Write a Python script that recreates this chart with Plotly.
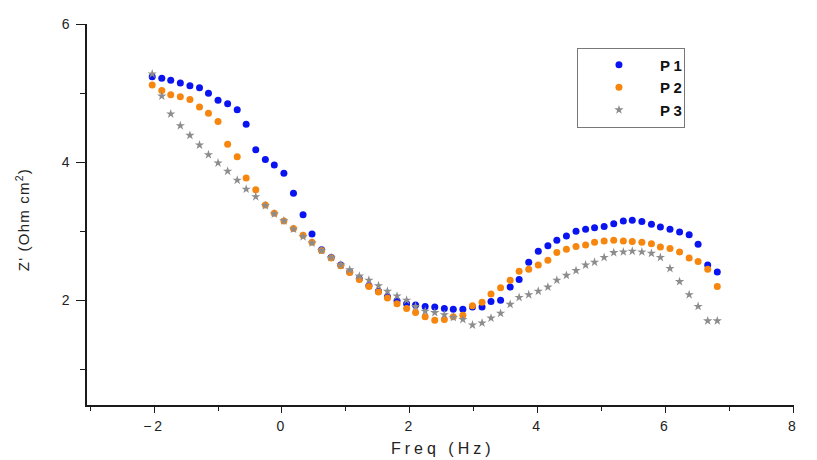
import plotly.graph_objects as go

# log-frequency sample points shared by all three series
freq = [-2.03, -1.88, -1.74, -1.59, -1.44, -1.29, -1.15, -1.00, -0.85, -0.70,
        -0.56, -0.41, -0.26, -0.12, 0.03, 0.18, 0.33, 0.47, 0.62, 0.77,
        0.92, 1.06, 1.21, 1.36, 1.51, 1.65, 1.80, 1.95, 2.09, 2.24,
        2.39, 2.54, 2.68, 2.83, 2.98, 3.13, 3.27, 3.42, 3.57, 3.71,
        3.86, 4.01, 4.16, 4.30, 4.45, 4.60, 4.75, 4.89, 5.04, 5.19,
        5.34, 5.48, 5.63, 5.78, 5.92, 6.07, 6.22, 6.37, 6.51, 6.66, 6.81]

p1 = [5.24, 5.22, 5.19, 5.15, 5.11, 5.08, 5.00, 4.90, 4.85, 4.76,
      4.55, 4.18, 4.04, 3.96, 3.84, 3.55, 3.24, 2.96, 2.73, 2.62,
      2.51, 2.41, 2.31, 2.21, 2.13, 2.05, 1.99, 1.95, 1.93, 1.91,
      1.90, 1.88, 1.87, 1.87, 1.90, 1.90, 1.98, 2.00, 2.19, 2.30,
      2.55, 2.71, 2.79, 2.87, 2.93, 3.00, 3.03, 3.05, 3.07, 3.11,
      3.15, 3.16, 3.14, 3.10, 3.06, 3.03, 2.99, 2.95, 2.81, 2.51, 2.41]

p2 = [5.12, 5.04, 4.98, 4.95, 4.91, 4.80, 4.71, 4.59, 4.26, 4.08,
      3.77, 3.60, 3.38, 3.26, 3.15, 3.04, 2.94, 2.84, 2.72, 2.61,
      2.50, 2.40, 2.30, 2.20, 2.12, 2.03, 1.95, 1.88, 1.82, 1.76,
      1.71, 1.72, 1.76, 1.78, 1.92, 1.97, 2.09, 2.18, 2.29, 2.42,
      2.45, 2.51, 2.58, 2.69, 2.74, 2.78, 2.80, 2.84, 2.86, 2.87,
      2.86, 2.85, 2.84, 2.82, 2.77, 2.75, 2.70, 2.61, 2.56, 2.45, 2.20]

p3 = [5.28, 4.96, 4.70, 4.53, 4.39, 4.25, 4.11, 3.99, 3.87, 3.74,
      3.61, 3.50, 3.37, 3.25, 3.15, 3.03, 2.92, 2.83, 2.72, 2.62,
      2.51, 2.44, 2.35, 2.29, 2.21, 2.13, 2.06, 2.00, 1.91, 1.84,
      1.82, 1.79, 1.75, 1.72, 1.64, 1.67, 1.74, 1.81, 1.94, 2.04,
      2.08, 2.13, 2.19, 2.29, 2.36, 2.43, 2.51, 2.55, 2.62, 2.69,
      2.70, 2.71, 2.70, 2.68, 2.62, 2.46, 2.27, 2.08, 1.91, 1.70, 1.70]

series = [
    ("P1", p1, "#0a14f0", "circle", 7),
    ("P2", p2, "#f7860f", "circle", 7),
    ("P3", p3, "#8c8c8c", "star", 7),
]

FONT = "Arial, Liberation Sans, sans-serif"
INK = "#1a1a1a"

fig = go.Figure()
for name, vals, color, symbol, size in series:
    fig.add_trace(go.Scatter(
        x=freq, y=vals, mode="markers", name=name,
        marker=dict(color=color, symbol=symbol, size=size, line=dict(width=0)),
    ))

axis_common = dict(
    showline=True, linecolor=INK, linewidth=1.5,
    ticks="outside", tickwidth=1.3, tickcolor=INK,
    showgrid=False, zeroline=False, mirror=False, automargin=False,
    tickfont=dict(family=FONT, size=14, color="#222"),
)

title_font = dict(family=FONT, color="#222")

fig.update_layout(
    width=817, height=460,
    margin=dict(l=87, r=23, t=24, b=55),
    paper_bgcolor="white", plot_bgcolor="white",
    font=dict(family=FONT, color="#222"),
    xaxis=dict(
        range=[-3.05, 8.01], tick0=0, dtick=2, ticklen=6, ticklabelstandoff=1,
        minor=dict(dtick=1, ticklen=4, tickwidth=1.3, tickcolor=INK, ticks="outside"),
        **axis_common,
    ),
    yaxis=dict(
        range=[0.48, 6.005], tick0=0, dtick=2, ticklen=9, ticklabelstandoff=4,
        minor=dict(dtick=1, ticklen=5, tickwidth=1.3, tickcolor=INK, ticks="outside"),
        **axis_common,
    ),
    legend=dict(
        x=0.693, y=0.938, xanchor="left", yanchor="top",
        bordercolor="#777", borderwidth=1, bgcolor="white",
        font=dict(family=FONT, size=15, color="#111", weight="bold"),
        itemwidth=72, tracegroupgap=0,
        entrywidth=118, entrywidthmode="pixels",
    ),
    showlegend=True,
    annotations=[
        dict(text="Freq (Hz)", xref="paper", yref="paper", x=0.5035, y=-0.113,
             xanchor="center", yanchor="middle", showarrow=False,
             font=dict(size=16, **title_font)),
        dict(text="Z' (Ohm cm<sup>2</sup>)", textangle=-90,
             xref="paper", yref="paper", x=-0.092, y=0.488,
             xanchor="center", yanchor="middle", showarrow=False,
             font=dict(size=15, **title_font)),
    ],
)

# wider letter spacing on the axis and legend labels
css = (".xtick text{letter-spacing:3px}"
       ".annotation[data-index=\"0\"] .annotation-text{letter-spacing:4px}"
       ".annotation[data-index=\"1\"] .annotation-text{letter-spacing:1.2px}"
       ".legendtext{letter-spacing:3.5px}")
post = ("var s=document.createElement('style');s.textContent='%s';"
        "document.head.appendChild(s);" % css)

fig.write_html("out.html", post_script=post)
